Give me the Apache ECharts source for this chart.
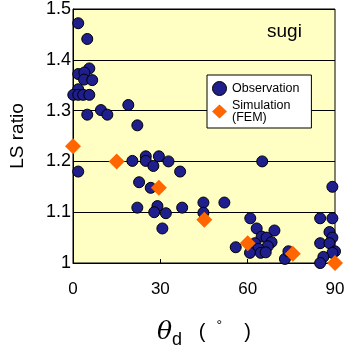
<!DOCTYPE html>
<html>
<head>
<meta charset="utf-8">
<script src="https://cdn.jsdelivr.net/npm/echarts@6/dist/echarts.min.js"></script>
<style>
  html, body { margin: 0; padding: 0; background: #fff; }
  #app { width: 348px; height: 354px; }
</style>
</head>
<body>
<div id="app"></div>
<script>
const xTicks = [0, 30, 60, 90]
const yTicks = [1, 1.1, 1.2, 1.3, 1.4, 1.5]

// Observation (theta_d, LS ratio)
const obsX = [
  1.8, 4.9, 5.6, 1.8, 3.9, 3.8, 6.6, 1.8, 0.1, 1.8, 3.5, 5.6, 4.9, 9.6, 11.8, 19.0, 22.1,
  1.8, 20.4, 25.0, 25.0, 27.6, 29.5, 32.8, 36.8, 22.7, 26.7, 22.1, 29.0, 27.9, 31.9, 37.5, 30.7,
  44.8, 44.8, 65.0, 89.1, 52.0, 60.9, 84.9, 89.1, 63.1, 69.2, 64.8, 66.5, 68.2, 55.9, 62.5,
  66.9, 63.7, 60.8, 64.5, 66.2, 72.8, 74.0, 88.1, 89.1, 84.9, 88.1, 90.0, 89.1, 86.0, 84.9
]
const obsY = [
  1.472, 1.441, 1.383, 1.372, 1.375, 1.361, 1.360, 1.342, 1.331, 1.331, 1.331, 1.331, 1.292, 1.301, 1.292, 1.311, 1.271,
  1.180, 1.201, 1.210, 1.201, 1.191, 1.210, 1.200, 1.180, 1.159, 1.148, 1.109, 1.112, 1.100, 1.098, 1.109, 1.068,
  1.119, 1.099, 1.200, 1.150, 1.119, 1.088, 1.088, 1.088, 1.068, 1.064, 1.052, 1.050, 1.041, 1.031, 1.039,
  1.033, 1.028, 1.020, 1.020, 1.021, 1.008, 1.023, 1.061, 1.050, 1.039, 1.039, 1.023, 1.020, 1.012, 1.000
]

// Simulation (FEM)
const simX = [0, 15.0, 29.5, 45.1, 60.0, 75.5, 90]
const simY = [1.230, 1.200, 1.148, 1.085, 1.039, 1.018, 1.000]

const pair = (xs, ys) => xs.map((x, i) => [x, ys[i]])

const echart = echarts.init(document.getElementById('app'))
echart.setOption({
  animation: false,
  textStyle: { fontFamily: 'Liberation Sans, Arial, sans-serif' },
  grid: {
    left: 73,
    right: 13,
    top: 5,
    bottom: 85,
    show: true,
    backgroundColor: '#ffffc4',
    borderColor: '#000',
    borderWidth: 1
  },
  xAxis: {
    type: 'value',
    min: 0,
    max: 90,
    interval: 30,
    axisLine: { show: true, lineStyle: { color: '#000' } },
    axisTick: { show: true, inside: true, length: 4, lineStyle: { color: '#000' } },
    splitLine: { show: false },
    axisLabel: {
      color: '#000',
      fontSize: 17,
      margin: 18,
      formatter: v => xTicks.includes(v) ? String(v) : ''
    },
    name: '{t|θ}{s|d}{p|   (  }{o|°}{p|    )}',
    nameLocation: 'middle',
    nameGap: 53,
    nameTextStyle: {
      rich: {
        t: { fontFamily: 'DejaVu Serif', fontStyle: 'italic', fontSize: 25, color: '#000' },
        s: { fontFamily: 'Liberation Sans', fontSize: 18, color: '#000', padding: [15, 0, 0, 0] },
        p: { fontFamily: 'Liberation Sans', fontSize: 20, color: '#000' },
        o: { fontFamily: 'Liberation Sans', fontSize: 14, color: '#000', padding: [0, 0, 12, 0] }
      }
    }
  },
  yAxis: {
    type: 'value',
    min: 1,
    max: 1.5,
    interval: 0.1,
    axisLine: { show: true, lineStyle: { color: '#000' } },
    axisTick: { show: false },
    splitLine: { show: true, lineStyle: { color: '#000', width: 1 } },
    axisLabel: {
      color: '#000',
      fontSize: 18,
      margin: 2,
      formatter: v => {
        const hit = yTicks.find(t => Math.abs(t - v) < 1e-6)
        return hit === undefined ? '' : String(hit)
      }
    },
    name: 'LS ratio',
    nameLocation: 'middle',
    nameGap: 46,
    nameTextStyle: { color: '#000', fontSize: 19 }
  },
  legend: {
    left: 207,
    top: 75,
    orient: 'vertical',
    backgroundColor: '#fff',
    borderColor: '#000',
    borderWidth: 1,
    borderRadius: 0,
    padding: [6, 12, 4, 5],
    itemGap: 3,
    itemWidth: 15,
    itemHeight: 14,
    textStyle: { color: '#000', fontSize: 12.5, lineHeight: 12 },
    data: [
      { name: 'Observation', icon: 'circle', itemStyle: { borderColor: '#000', borderWidth: 1 } },
      { name: 'Simulation\n(FEM)', icon: 'diamond' }
    ]
  },
  graphic: [
    {
      type: 'text',
      left: 267,
      top: 22,
      style: { text: 'sugi', fontSize: 19, fill: '#000', fontFamily: 'Liberation Sans' }
    }
  ],
  series: [
    {
      name: 'Observation',
      type: 'scatter',
      data: pair(obsX, obsY),
      symbol: 'circle',
      symbolSize: 11,
      clip: false,
      itemStyle: { color: '#1e1e8c', borderColor: '#000', borderWidth: 1, opacity: 1 },
      z: 2
    },
    {
      name: 'Simulation\n(FEM)',
      type: 'scatter',
      data: pair(simX, simY),
      symbol: 'diamond',
      symbolSize: 16,
      clip: false,
      itemStyle: { color: '#ff6600', opacity: 1 },
      z: 3
    }
  ]
})
</script>
</body>
</html>
